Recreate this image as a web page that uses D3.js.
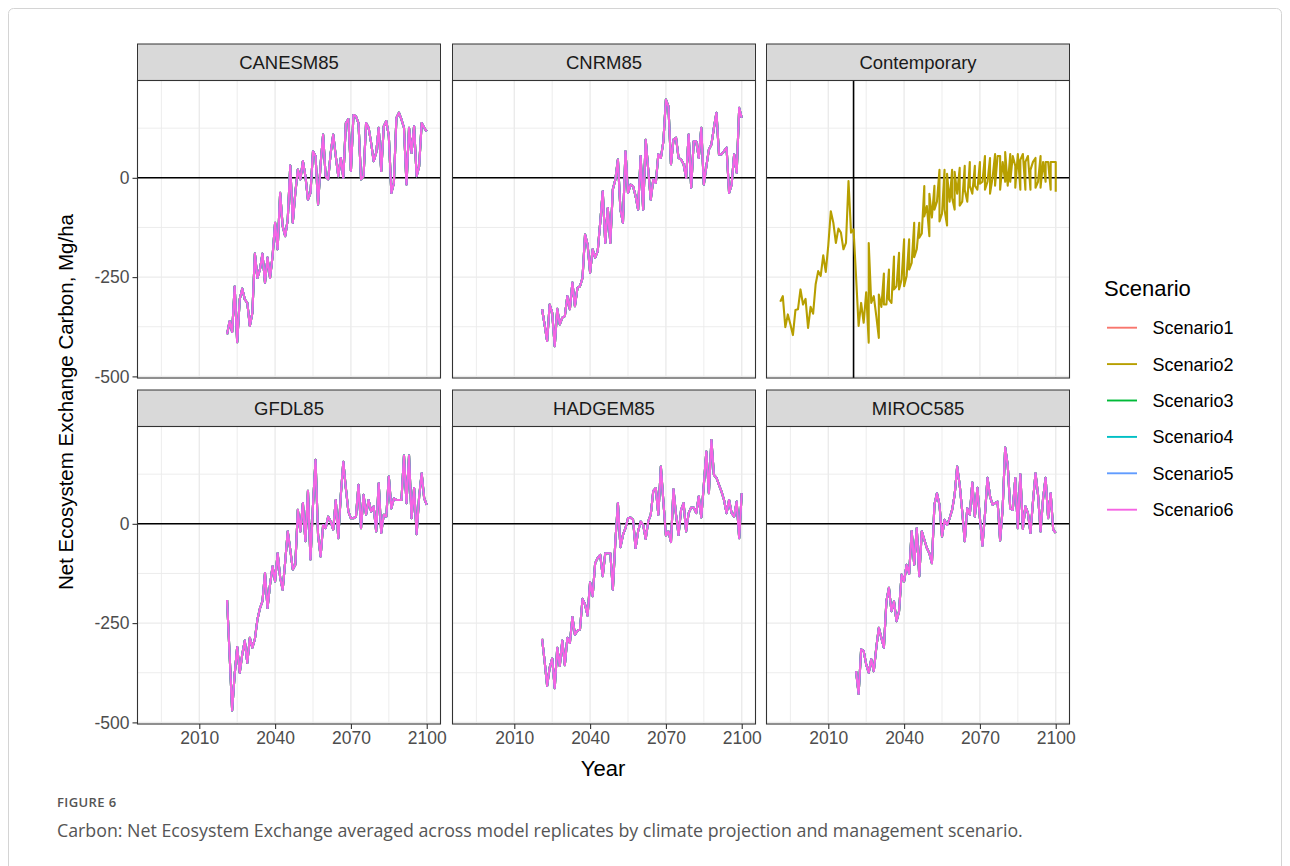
<!DOCTYPE html>
<html>
<head>
<meta charset="utf-8">
<script src="https://cdn.jsdelivr.net/npm/d3@7"></script>
<style>
  body { margin: 0; background: #fff; }
  svg { display: block; }
</style>
</head>
<body>
<svg id="fig" width="1290" height="866"></svg>
<script>
// ---- data -------------------------------------------------------------
const panelNames = ["CANESM85", "CNRM85", "Contemporary", "GFDL85", "HADGEM85", "MIROC585"];
const scenarios = ["Scenario1", "Scenario2", "Scenario3", "Scenario4", "Scenario5", "Scenario6"];
const scenarioColors = ["#F8766D", "#B79F00", "#00BA38", "#00BFC4", "#619CFF", "#F564E3"];
const xTickValues = [2010, 2040, 2070, 2100];
const yTickValues = [-500, -250, 0];

// projection years shared by the climate-model runs
const projYears = d3.range(2021, 2101);

// NEE (Mg/ha), 2021-2100, averaged over replicates
const canesm85 = [-394,-361,-388,-274,-414,-306,-279,-306,-315,-373,-340,-191,-252,-231,-191,-264,-201,-252,-197,-113,
  -180,-38,-122,-147,-105,31,-113,-38,21,-4,42,4,-55,-38,67,55,-67,34,109,4,
  -4,63,109,55,4,50,0,138,148,17,158,155,138,-4,4,138,126,88,42,63,
  126,17,130,143,105,-38,-13,151,164,147,126,-17,126,63,130,4,29,138,126,117];
const cnrm85 = [-331,-370,-411,-319,-340,-424,-330,-369,-352,-348,-298,-331,-264,-323,-277,-273,-252,-143,-168,-239,
  -180,-201,-185,-113,-34,-164,-76,-164,-29,-4,46,-80,-113,67,-38,-17,-21,-46,-80,55,
  -80,96,21,-55,-4,-13,59,50,92,197,180,34,96,101,50,46,34,0,109,-25,
  92,92,50,126,-17,29,71,84,126,164,59,59,67,76,-38,-17,59,13,176,151];
const gfdl85 = [-192,-330,-470,-379,-310,-375,-329,-294,-350,-287,-312,-290,-241,-213,-195,-124,-212,-153,-107,-145,
  -74,-135,-166,-95,-19,-65,-115,-103,35,-19,52,-44,83,-90,48,161,-28,-82,-3,-11,
  18,6,-15,60,-36,73,156,90,31,14,14,18,98,-11,73,23,60,31,44,-19,
  102,-23,23,18,119,39,64,60,60,60,172,52,172,14,90,-26,69,127,64,48];
const hadgem85 = [-290,-346,-408,-362,-339,-414,-312,-358,-294,-356,-287,-300,-235,-279,-269,-266,-189,-203,-231,-147,
  -182,-99,-86,-78,-132,-74,-74,-74,-166,-44,52,-59,-28,-11,14,16,10,-61,-19,6,
  -3,-38,6,23,83,90,23,144,56,-29,-19,-46,87,23,-28,35,52,-19,27,41,
  41,27,69,16,98,182,77,211,123,116,98,81,60,27,60,27,18,56,-36,77];
const miroc585 = [-371,-428,-316,-320,-354,-375,-341,-371,-312,-262,-287,-312,-195,-161,-220,-195,-245,-220,-128,-145,
  -103,-126,-18,-103,-11,-132,-19,-40,-61,-74,-99,48,77,48,-32,10,-3,14,35,73,
  144,98,31,-44,39,23,104,18,91,14,-55,23,116,69,48,52,56,-42,39,192,
  148,39,35,115,-11,125,-13,44,27,-23,56,127,73,-19,64,116,14,77,-15,-23];

// Contemporary climate, Scenario2 only: observed record 1991-2020 ...
const contempHistYears = d3.range(1991, 2021);
const contempHist = [-312,-298,-376,-344,-369,-396,-333,-331,-281,-319,-305,-378,-325,-342,-268,-235,-247,-195,-237,-170,
  -84,-113,-164,-128,-138,-180,-164,-8,-138,-130];
// ... then the resampled contemporary series (several rows share a year)
const contempProj = [[2021,-250],[2022,-373],[2023,-315],[2024,-365],[2025,-288],[2026,-415],[2026,-164],[2027,-315],
  [2028,-298],[2029,-348],[2030,-403],[2030,-294],[2031,-325],[2032,-241],[2032,-319],[2033,-319],[2034,-231],[2034,-306],
  [2035,-315],[2036,-198],[2036,-281],[2037,-273],[2038,-189],[2038,-281],[2039,-256],[2040,-155],[2040,-273],[2041,-247],
  [2042,-155],[2042,-231],[2043,-214],[2044,-113],[2044,-200],[2045,-180],[2046,-113],[2046,-151],[2047,-140],[2048,-21],
  [2048,-97],[2049,-71],[2050,-147],[2050,-40],[2051,-100],[2052,-20],[2052,-80],[2053,-60],[2054,20],[2054,-110],
  [2055,-90],[2056,20],[2056,-80],[2057,-120],[2057,10],[2058,-60],[2059,20],[2059,-50],[2060,-80],[2060,15],
  [2061,-40],[2062,25],[2062,-70],[2063,-60],[2064,30],[2064,-30],[2065,-60],[2066,40],[2066,-20],[2067,-40],
  [2068,30],[2068,-20],[2069,-30],[2070,40],[2070,-15],[2071,-10],[2072,55],[2072,-30],[2073,-10],[2074,50],
  [2074,-40],[2075,0],[2076,60],[2076,-20],[2077,55],[2078,55],[2078,-30],[2079,40],[2080,-10],[2080,65],
  [2081,-20],[2082,60],[2082,-10],[2083,55],[2084,30],[2084,-25],[2085,60],[2086,-30],[2086,45],[2087,60],
  [2088,-30],[2088,40],[2089,55],[2090,-30],[2090,20],[2091,40],[2092,50],[2092,-25],[2093,-10],[2094,55],
  [2094,-25],[2095,40],[2096,-10],[2096,40],[2097,40],[2098,-30],[2098,40],[2099,40],[2100,40],[2100,-35]];
const contempBreakYear = 2020;

// ---- assemble per-panel line data --------------------------------------
const modelSeries = { CANESM85: canesm85, CNRM85: cnrm85, GFDL85: gfdl85, HADGEM85: hadgem85, MIROC585: miroc585 };
function panelLines(name) {
  if (name === "Contemporary") {
    const pts = contempHistYears.map((y, i) => [y, contempHist[i]]).concat(contempProj);
    return [{ scenario: 1, points: pts }];
  }
  const vals = modelSeries[name];
  return scenarios.map((s, k) => ({ scenario: k, points: projYears.map((y, i) => [y, vals[i]]) }));
}

// ---- layout -----------------------------------------------------------
const svg = d3.select("#fig");
const colX = [137.5, 452.5, 766.5];
const rowY = [80.5, 426.5];
const panelW = 303, panelH = 297.5, stripH = 36.5;

// ggplot-style 5% expansion of the data range
const allX = contempHistYears.concat(projYears);
const allY = [].concat(canesm85, cnrm85, gfdl85, hadgem85, miroc585, contempHist, contempProj.map(d => d[1]));
function expand([a, b]) { const p = (b - a) * 0.05; return [a - p, b + p]; }
const x = d3.scaleLinear().domain(expand(d3.extent(allX))).range([0, panelW]);
const y = d3.scaleLinear().domain(expand(d3.extent(allY))).range([panelH, 0]);
const xMinor = [1995, 2025, 2055, 2085];
const yMinor = [-375, -125, 125];

// outer frame of the figure
svg.append("rect").attr("x", 8.5).attr("y", 8.5).attr("width", 1273).attr("height", 900)
  .attr("rx", 5).attr("fill", "none").attr("stroke", "#d4d4d4").attr("stroke-width", 1);

const line = d3.line().x(d => x(d[0])).y(d => y(d[1]));

panelNames.forEach((name, idx) => {
  const col = idx % 3, row = Math.floor(idx / 3);
  const g = svg.append("g").attr("transform", `translate(${colX[col]},${rowY[row]})`);

  // strip
  g.append("rect").attr("x", 0).attr("y", -stripH).attr("width", panelW).attr("height", stripH)
    .attr("fill", "#d9d9d9").attr("stroke", "#333333").attr("stroke-width", 1);
  g.append("text").attr("x", panelW / 2).attr("y", -stripH / 2).attr("dy", "0.36em")
    .attr("text-anchor", "middle").attr("font-family", "Liberation Sans, Arial, sans-serif")
    .attr("font-size", 18.5).attr("fill", "#1a1a1a").text(name);

  // panel background and grid
  const clipId = "clip" + idx;
  g.append("clipPath").attr("id", clipId).append("rect").attr("width", panelW).attr("height", panelH);
  g.append("rect").attr("width", panelW).attr("height", panelH).attr("fill", "#fff");
  const grid = g.append("g").attr("stroke", "#ebebeb");
  grid.selectAll(".xm").data(xMinor).join("line").attr("x1", d => x(d)).attr("x2", d => x(d))
    .attr("y1", 0).attr("y2", panelH).attr("stroke-width", 0.9);
  grid.selectAll(".ym").data(yMinor).join("line").attr("y1", d => y(d)).attr("y2", d => y(d))
    .attr("x1", 0).attr("x2", panelW).attr("stroke-width", 0.9);
  grid.selectAll(".xM").data(xTickValues).join("line").attr("x1", d => x(d)).attr("x2", d => x(d))
    .attr("y1", 0).attr("y2", panelH).attr("stroke-width", 1.4);
  grid.selectAll(".yM").data(yTickValues).join("line").attr("y1", d => y(d)).attr("y2", d => y(d))
    .attr("x1", 0).attr("x2", panelW).attr("stroke-width", 1.4);

  // reference lines
  g.append("line").attr("x1", 0).attr("x2", panelW).attr("y1", y(0)).attr("y2", y(0))
    .attr("stroke", "#000").attr("stroke-width", 1.6);
  if (name === "Contemporary") {
    g.append("line").attr("x1", x(contempBreakYear)).attr("x2", x(contempBreakYear))
      .attr("y1", 0).attr("y2", panelH).attr("stroke", "#000").attr("stroke-width", 1.6);
  }

  // series
  g.append("g").attr("clip-path", `url(#${clipId})`)
    .selectAll("path").data(panelLines(name)).join("path")
    .attr("d", d => line(d.points)).attr("fill", "none")
    .attr("stroke", d => scenarioColors[d.scenario]).attr("stroke-width", 2.1)
    .attr("stroke-linejoin", "round");

  // border
  g.append("rect").attr("width", panelW).attr("height", panelH).attr("fill", "none")
    .attr("stroke", "#333333").attr("stroke-width", 1.1);

  // axes (left column / bottom row only)
  if (col === 0) {
    const ay = g.append("g").call(d3.axisLeft(y).tickValues(yTickValues).tickSize(5).tickPadding(3).tickFormat(d3.format("d")));
    ay.select(".domain").remove();
    ay.selectAll(".tick line").attr("stroke", "#333333").attr("stroke-width", 1.1);
    ay.selectAll(".tick text").attr("font-family", "Liberation Sans, Arial, sans-serif")
      .attr("font-size", 17.5).attr("fill", "#4d4d4d").text(d => d < 0 ? "-" + Math.abs(d) : d);
  }
  if (row === 1) {
    const ax = g.append("g").attr("transform", `translate(0,${panelH})`)
      .call(d3.axisBottom(x).tickValues(xTickValues).tickSize(5).tickPadding(3).tickFormat(d3.format("d")));
    ax.select(".domain").remove();
    ax.selectAll(".tick line").attr("stroke", "#333333").attr("stroke-width", 1.1);
    ax.selectAll(".tick text").attr("font-family", "Liberation Sans, Arial, sans-serif")
      .attr("font-size", 17.5).attr("fill", "#4d4d4d");
  }
});

// axis titles
svg.append("text").attr("x", 603).attr("y", 776).attr("text-anchor", "middle")
  .attr("font-family", "Liberation Sans, Arial, sans-serif").attr("font-size", 22).attr("fill", "#000").text("Year");
svg.append("text").attr("transform", "translate(73,402) rotate(-90)").attr("text-anchor", "middle")
  .attr("font-family", "Liberation Sans, Arial, sans-serif").attr("font-size", 20.5).attr("fill", "#000")
  .text("Net Ecosystem Exchange Carbon, Mg/ha");

// legend
const lg = svg.append("g").attr("transform", "translate(1104,0)");
lg.append("text").attr("x", 0).attr("y", 296).attr("font-family", "Liberation Sans, Arial, sans-serif")
  .attr("font-size", 22).attr("fill", "#000").text("Scenario");
const items = lg.selectAll(".item").data(scenarios).join("g")
  .attr("transform", (d, i) => `translate(0,${327.7 + i * 36.4})`);
items.append("line").attr("x1", 3).attr("x2", 33).attr("y1", 0).attr("y2", 0)
  .attr("stroke", (d, i) => scenarioColors[i]).attr("stroke-width", 1.9);
items.append("text").attr("x", 48.5).attr("y", 0).attr("dy", "0.36em")
  .attr("font-family", "Liberation Sans, Arial, sans-serif").attr("font-size", 18).attr("fill", "#000").text(d => d);

// caption
svg.append("text").attr("x", 57).attr("y", 807).attr("font-family", "Open Sans, sans-serif")
  .attr("font-size", 13).attr("font-weight", 600).attr("letter-spacing", 0.4).attr("fill", "#555")
  .text("FIGURE 6");
svg.append("text").attr("x", 57).attr("y", 837).attr("font-family", "Open Sans, sans-serif")
  .attr("font-size", 17.8).attr("fill", "#555")
  .text("Carbon: Net Ecosystem Exchange averaged across model replicates by climate projection and management scenario.");
</script>
</body>
</html>
